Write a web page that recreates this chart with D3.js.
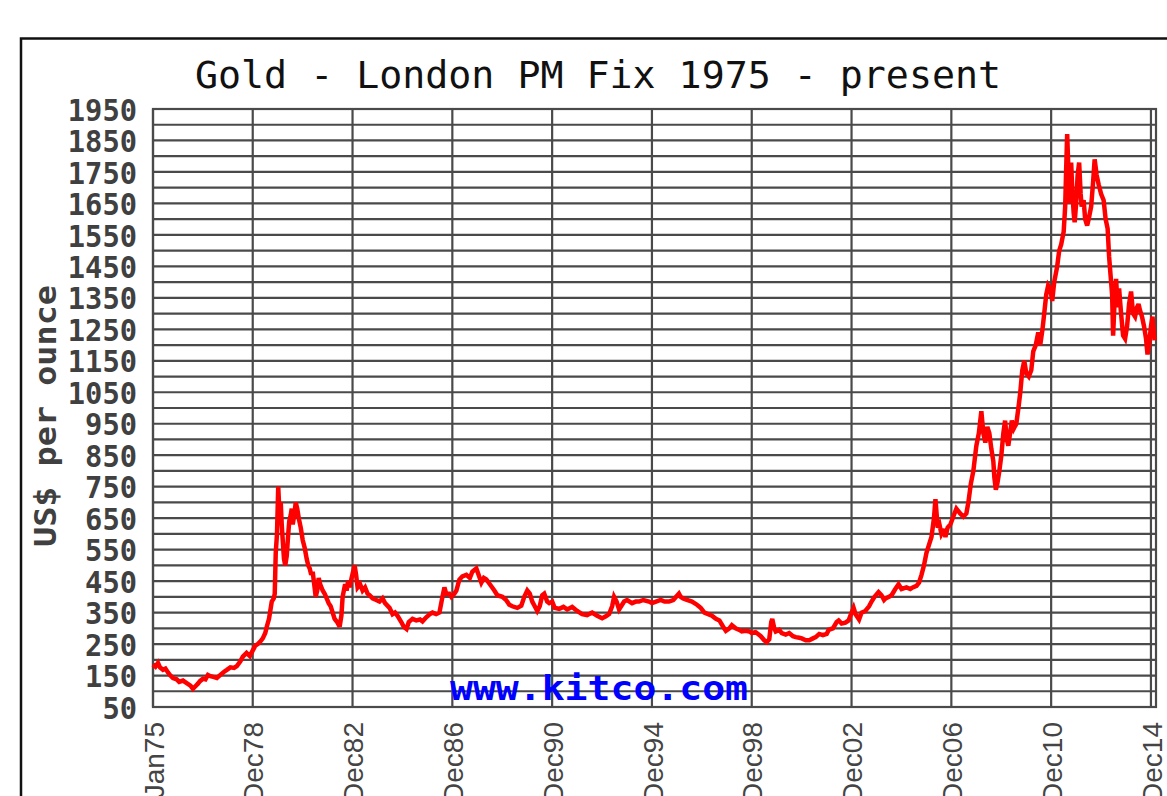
<!DOCTYPE html>
<html>
<head>
<meta charset="utf-8">
<script src="https://cdn.jsdelivr.net/npm/d3@7"></script>
<style>
  html, body { margin: 0; padding: 0; background: #fff; }
  svg { display: block; }
</style>
</head>
<body>
<div id="plot"></div>
<script>
// values (decimal year, US$ per ounce)
var years = [
  1975.00, 1975.10, 1975.20, 1975.28, 1975.40, 1975.50, 1975.60, 1975.70, 1975.80, 1975.95,
  1976.05, 1976.20, 1976.35, 1976.50, 1976.60, 1976.70, 1976.80, 1976.88, 1977.00, 1977.10,
  1977.20, 1977.30, 1977.45, 1977.56, 1977.70, 1977.85, 1977.96, 1978.10, 1978.25, 1978.36,
  1978.50, 1978.60, 1978.75, 1978.88, 1979.00, 1979.10, 1979.20, 1979.30, 1979.40, 1979.50,
  1979.56, 1979.65, 1979.76, 1979.84, 1979.88, 1979.92, 1979.97, 1980.02, 1980.06, 1980.12,
  1980.16, 1980.20, 1980.25, 1980.30, 1980.36, 1980.42, 1980.46, 1980.52, 1980.56, 1980.60,
  1980.66, 1980.72, 1980.78, 1980.84, 1980.92, 1981.00, 1981.08, 1981.16, 1981.22, 1981.28,
  1981.34, 1981.40, 1981.46, 1981.52, 1981.58, 1981.64, 1981.70, 1981.80, 1981.88, 1981.96,
  1982.04, 1982.12, 1982.20, 1982.28, 1982.38, 1982.48, 1982.55, 1982.60, 1982.70, 1982.76,
  1982.82, 1982.88, 1982.96, 1983.08, 1983.14, 1983.20, 1983.30, 1983.40, 1983.50, 1983.60,
  1983.68, 1983.80, 1983.95, 1984.08, 1984.20, 1984.30, 1984.48, 1984.60, 1984.70, 1984.80,
  1984.95, 1985.05, 1985.16, 1985.25, 1985.40, 1985.55, 1985.70, 1985.80, 1985.95, 1986.10,
  1986.20, 1986.35, 1986.48, 1986.60, 1986.68, 1986.75, 1986.88, 1986.96, 1987.08, 1987.16,
  1987.28, 1987.40, 1987.56, 1987.70, 1987.80, 1987.96, 1988.05, 1988.16, 1988.26, 1988.36,
  1988.50, 1988.68, 1988.80, 1989.00, 1989.15, 1989.28, 1989.40, 1989.60, 1989.76, 1989.88,
  1990.00, 1990.10, 1990.20, 1990.30, 1990.40, 1990.50, 1990.60, 1990.68, 1990.80, 1990.88,
  1991.00, 1991.10, 1991.28, 1991.45, 1991.60, 1991.80, 1992.00, 1992.20, 1992.40, 1992.60,
  1992.80, 1993.00, 1993.15, 1993.28, 1993.40, 1993.48, 1993.58, 1993.68, 1993.80, 1993.88,
  1994.00, 1994.20, 1994.35, 1994.48, 1994.65, 1994.88, 1995.00, 1995.16, 1995.35, 1995.50,
  1995.68, 1995.85, 1996.08, 1996.15, 1996.25, 1996.40, 1996.60, 1996.80, 1996.95, 1997.10,
  1997.25, 1997.40, 1997.56, 1997.70, 1997.85, 1997.96, 1998.10, 1998.20, 1998.35, 1998.50,
  1998.60, 1998.75, 1998.90, 1999.00, 1999.15, 1999.36, 1999.50, 1999.60, 1999.70, 1999.78,
  1999.82, 1999.90, 1999.96, 2000.10, 2000.20, 2000.36, 2000.50, 2000.65, 2000.76, 2000.90,
  2001.00, 2001.16, 2001.30, 2001.45, 2001.56, 2001.70, 2001.85, 2002.00, 2002.08, 2002.25,
  2002.40, 2002.48, 2002.60, 2002.75, 2002.88, 2002.96, 2003.08, 2003.16, 2003.30, 2003.40,
  2003.55, 2003.70, 2003.80, 2003.92, 2004.08, 2004.20, 2004.30, 2004.36, 2004.50, 2004.60,
  2004.75, 2004.88, 2005.00, 2005.20, 2005.35, 2005.45, 2005.60, 2005.70, 2005.80, 2005.90,
  2006.00, 2006.10, 2006.20, 2006.30, 2006.36, 2006.45, 2006.52, 2006.60, 2006.70, 2006.76,
  2006.85, 2006.96, 2007.10, 2007.20, 2007.35, 2007.48, 2007.60, 2007.68, 2007.78, 2007.88,
  2007.94, 2008.00, 2008.10, 2008.20, 2008.28, 2008.36, 2008.44, 2008.52, 2008.60, 2008.68,
  2008.72, 2008.78, 2008.84, 2008.92, 2009.00, 2009.08, 2009.15, 2009.22, 2009.28, 2009.35,
  2009.42, 2009.50, 2009.60, 2009.70, 2009.76, 2009.84, 2009.92, 2010.00, 2010.10, 2010.20,
  2010.28, 2010.38, 2010.48, 2010.56, 2010.65, 2010.72, 2010.80, 2010.88, 2010.96, 2011.04,
  2011.12, 2011.24, 2011.32, 2011.40, 2011.50, 2011.56, 2011.60, 2011.64, 2011.68, 2011.72,
  2011.76, 2011.80, 2011.84, 2011.90, 2011.94, 2012.00, 2012.06, 2012.12, 2012.18, 2012.22,
  2012.30, 2012.36, 2012.44, 2012.50, 2012.60, 2012.68, 2012.74, 2012.82, 2012.90, 2013.00,
  2013.10, 2013.18, 2013.26, 2013.32, 2013.38, 2013.44, 2013.48, 2013.54, 2013.60, 2013.66,
  2013.72, 2013.80, 2013.88, 2013.96, 2014.04, 2014.12, 2014.20, 2014.28, 2014.36, 2014.44,
  2014.50, 2014.56, 2014.64, 2014.72, 2014.80, 2014.86, 2014.92, 2015.00, 2015.06, 2015.14
];
var prices = [
  185, 178, 190, 176, 168, 172, 160, 150, 142, 138,
  130, 134, 126, 118, 108, 116, 124, 132, 140, 138,
  152, 148, 145, 142, 152, 162, 168, 176, 174, 180,
  195, 210, 222, 212, 230, 245, 250, 258, 268, 285,
  305, 330, 385, 395, 410, 540, 600, 750, 680, 700,
  630, 580, 520, 500, 530, 600, 640, 660, 680, 630,
  660, 700, 680, 650, 620, 580, 555, 520, 500, 490,
  470, 480, 440, 400, 420, 460, 440, 420, 410, 395,
  380, 370, 350, 330, 320, 305, 340, 400, 440, 420,
  450, 430, 460, 500, 470, 430, 440, 420, 430, 410,
  405, 395, 390, 385, 395, 380, 365, 345, 350, 340,
  320, 305, 298, 320, 330, 325, 328, 322, 335, 345,
  350, 345, 350, 400, 430, 410, 410, 400, 410, 420,
  455, 465, 470, 460, 480, 490, 470, 445, 460, 455,
  440, 420, 405, 400, 390, 375, 370, 365, 372, 400,
  420, 410, 385, 370, 355, 370, 405, 410, 385, 380,
  385, 365, 362, 368, 360, 368, 355, 345, 342, 350,
  340, 332, 338, 345, 370, 400, 385, 360, 375, 385,
  390, 380, 385, 385, 390, 385, 380, 385, 390, 385,
  385, 390, 410, 400, 395, 390, 385, 375, 365, 350,
  345, 340, 330, 325, 305, 292, 300, 310, 300, 295,
  290, 292, 290, 285, 288, 275, 262, 256, 265, 320,
  330, 300, 290, 295, 285, 280, 285, 275, 272, 270,
  268, 262, 262, 268, 272, 282, 278, 282, 295, 300,
  320, 325, 315, 318, 325, 342, 365, 345, 328, 350,
  355, 370, 385, 400, 415, 405, 390, 395, 400, 405,
  425, 440, 425, 430, 425, 430, 435, 445, 470, 500,
  540, 565, 590, 650, 710, 620, 630, 600, 615, 590,
  620, 630, 660, 680, 665, 655, 665, 700, 760, 800,
  840, 880, 920, 990, 920, 890, 940, 920, 870, 830,
  780, 740, 760, 800, 850, 920, 960, 900, 880, 920,
  960, 935, 950, 1010, 1050, 1120, 1150, 1110, 1100, 1120,
  1180, 1200, 1240, 1200, 1250, 1300, 1360, 1390, 1380, 1340,
  1400, 1450, 1500, 1520, 1560, 1640, 1760, 1870, 1780, 1650,
  1700, 1780, 1700, 1620, 1590, 1650, 1740, 1780, 1680, 1640,
  1660, 1600, 1580, 1600, 1640, 1720, 1790, 1740, 1710, 1680,
  1660, 1600, 1570, 1480, 1420, 1360, 1230, 1340, 1410, 1320,
  1380, 1300, 1230, 1220, 1260, 1330, 1370, 1300, 1290, 1320,
  1330, 1310, 1290, 1260, 1220, 1170, 1200, 1260, 1290, 1215
];

var tickDates = ["1975-01-01", "1978-12-31", "1982-12-31", "1986-12-31", "1990-12-31",
                 "1994-12-31", "1998-12-31", "2002-12-31", "2006-12-31", "2010-12-31", "2014-12-31"];
var tickLabels = ["Jan75", "Dec78", "Dec82", "Dec86", "Dec90", "Dec94", "Dec98",
                  "Dec02", "Dec06", "Dec10", "Dec14"];
var yLabels = [50, 150, 250, 350, 450, 550, 650, 750, 850, 950, 1050, 1150,
               1250, 1350, 1450, 1550, 1650, 1750, 1850, 1950];

// decimal year -> Date
function toDate(y) {
  var yr = Math.floor(y);
  var a = new Date(yr, 0, 1), b = new Date(yr + 1, 0, 1);
  return new Date(+a + (y - yr) * (b - a));
}
var parseDay = d3.timeParse("%Y-%m-%d");

var W = 1167, H = 796;
var margin = {top: 109, left: 153, right: 1156, bottom: 707};

var svg = d3.select("#plot").append("svg")
    .attr("width", W)
    .attr("height", H);

var x = d3.scaleTime()
    .domain([parseDay("1975-01-01"), parseDay("2015-03-15")])
    .range([margin.left, margin.right]);

var y = d3.scaleLinear()
    .domain([50, 1950])
    .range([margin.bottom, margin.top]);

var gridColor = "#4a4a4a";

// outer frame (runs off the right and bottom of the picture)
svg.append("path")
    .attr("d", "M21," + H + "V38.5H" + W)
    .attr("fill", "none")
    .attr("stroke", "#111")
    .attr("stroke-width", 2.5);

// title
svg.append("text")
    .attr("x", 598)
    .attr("y", 88)
    .attr("text-anchor", "middle")
    .attr("font-family", "DejaVu Sans Mono, monospace")
    .attr("font-size", 37)
    .attr("textLength", 806)
    .attr("lengthAdjust", "spacingAndGlyphs")
    .attr("fill", "#111")
    .text("Gold - London PM Fix 1975 - present");

// horizontal grid every 50
var gridVals = d3.range(50, 1951, 50);
svg.append("g")
  .selectAll("line")
  .data(gridVals)
  .enter().append("line")
    .attr("x1", margin.left)
    .attr("x2", margin.right)
    .attr("y1", function(d) { return y(d); })
    .attr("y2", function(d) { return y(d); })
    .attr("stroke", gridColor)
    .attr("stroke-width", 2.2);

// vertical grid at the date ticks
var tickObjs = tickDates.map(parseDay);
svg.append("g")
  .selectAll("line")
  .data(tickObjs)
  .enter().append("line")
    .attr("x1", function(d) { return x(d); })
    .attr("x2", function(d) { return x(d); })
    .attr("y1", margin.top)
    .attr("y2", margin.bottom)
    .attr("stroke", gridColor)
    .attr("stroke-width", 2.2);

// plot frame
svg.append("rect")
    .attr("x", margin.left)
    .attr("y", margin.top)
    .attr("width", margin.right - margin.left)
    .attr("height", margin.bottom - margin.top)
    .attr("fill", "none")
    .attr("stroke", gridColor)
    .attr("stroke-width", 2.2);

// y axis labels
var yAxis = d3.axisLeft(y)
    .tickValues(yLabels)
    .tickFormat(d3.format("d"))
    .tickSize(0)
    .tickPadding(16);
var gy = svg.append("g")
    .attr("transform", "translate(" + margin.left + ",0)")
    .call(yAxis);
gy.select(".domain").remove();
gy.selectAll("text")
    .attr("font-family", "DejaVu Sans Mono, monospace")
    .attr("font-weight", "bold")
    .attr("font-size", 30)
    .attr("textLength", function(d) { return String(d).length * 17.3; })
    .attr("lengthAdjust", "spacingAndGlyphs")
    .attr("fill", "#404040")
    .attr("dy", "0.37em");

// y axis title
svg.append("text")
    .attr("transform", "translate(56,416) rotate(-90)")
    .attr("text-anchor", "middle")
    .attr("font-family", "DejaVu Sans Mono, monospace")
    .attr("font-weight", "bold")
    .attr("font-size", 31)
    .attr("textLength", 262)
    .attr("lengthAdjust", "spacingAndGlyphs")
    .attr("fill", "#404040")
    .text("US$ per ounce");

// x axis labels, rotated (they run off the bottom like the original)
var xAxis = d3.axisBottom(x)
    .tickValues(tickObjs)
    .tickFormat(function(d, i) { return tickLabels[i]; })
    .tickSize(0);
var gx = svg.append("g")
    .attr("transform", "translate(0," + margin.bottom + ")")
    .call(xAxis);
gx.select(".domain").remove();
gx.selectAll("text")
    .attr("font-family", "Liberation Sans, Arial, sans-serif")
    .attr("font-size", 28)
    .attr("fill", "#444")
    .attr("text-anchor", "end")
    .attr("transform", "rotate(-90)")
    .attr("x", -15)
    .attr("y", 0)
    .attr("dy", "0.36em");

// watermark
svg.append("text")
    .attr("x", margin.left + 297)
    .attr("y", 700)
    .attr("font-family", "DejaVu Sans Mono, monospace")
    .attr("font-weight", "bold")
    .attr("font-size", 34)
    .attr("textLength", 298)
    .attr("lengthAdjust", "spacingAndGlyphs")
    .attr("fill", "#0000ff")
    .text("www.kitco.com");

// price line
var data = years.map(function(yv, i) { return {date: toDate(yv), price: prices[i]}; });
var line = d3.line()
    .x(function(d) { return x(d.date); })
    .y(function(d) { return y(d.price); });

svg.append("path")
    .datum(data)
    .attr("d", line)
    .attr("fill", "none")
    .attr("stroke", "#ff0000")
    .attr("stroke-width", 4.5)
    .attr("stroke-linejoin", "miter")
    .attr("stroke-miterlimit", 3);
</script>
</body>
</html>
